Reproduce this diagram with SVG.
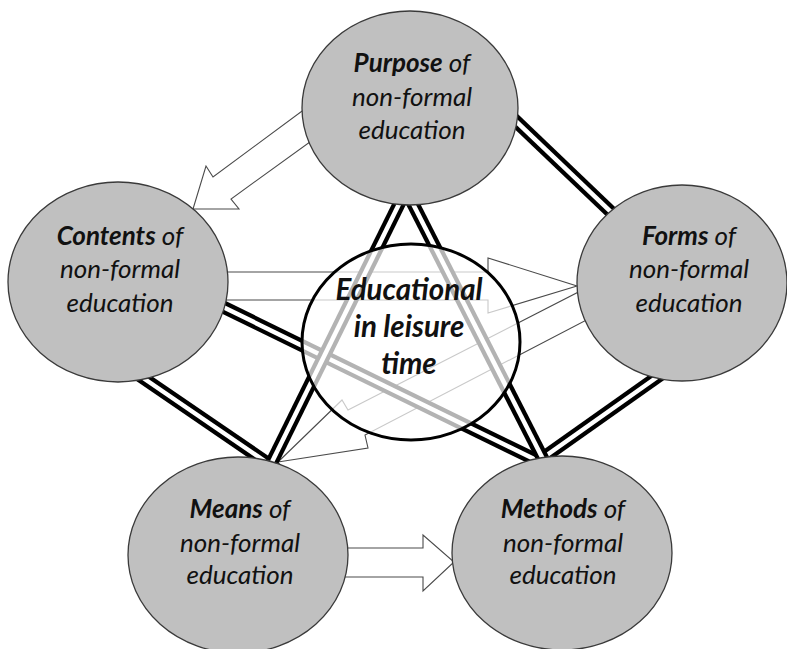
<svg xmlns="http://www.w3.org/2000/svg" width="787" height="649" viewBox="0 0 787 649">
<style>
.bg{fill:#ffffff}
.node{fill:#c0c0c0;stroke:#3a3a3a;stroke-width:1.3}
.center{fill:#ffffff;fill-opacity:0.7;stroke:#000;stroke-width:3}
.arrow{fill:#ffffff;stroke:#4a4a4a;stroke-width:1.1;stroke-linejoin:miter}
.dl-out{fill:none;stroke:#000;stroke-width:13}
.dl-in{fill:none;stroke:#fff;stroke-width:4.5}
.t{font-family:Lato,"Open Sans","Liberation Sans",sans-serif;font-style:italic;font-size:26px;fill:#111;text-anchor:middle}
.b{font-weight:bold}
.tc{font-size:29.5px;font-weight:bold}
</style>
<defs>
<path id="l1" d="M505,110.8 L625,225.4"/>
<path id="l2" d="M670,368 L530,467"/>
<path id="l3" d="M130,369 L277,469.5"/>
<path id="l4" d="M205,298.2 L550,466.7"/>
<path id="l5" d="M403,196 L269,468"/>
<path id="l6" d="M410,198 L546,465"/>
</defs>
<rect class="bg" x="0" y="0" width="787" height="649"/>
<g id="connectors">
<polygon class="arrow" points="317,100 213,177 206,166 193,209 239,209 231,199 321,134"/>
<polygon class="arrow" points="200,272 488,272 488,258 577,286 488,313 488,300 200,300"/>
<polygon class="arrow" points="278,462 342,400 348,410 600,281 600,313 365,435 368,448"/>
<polygon class="arrow" points="330,548 423,548 423,535 454,562 423,591 423,577 330,577"/>
<use href="#l1" class="dl-out"/><use href="#l1" class="dl-in"/>
<use href="#l2" class="dl-out"/><use href="#l2" class="dl-in"/>
<use href="#l3" class="dl-out"/><use href="#l3" class="dl-in"/>
<use href="#l4" class="dl-out"/><use href="#l4" class="dl-in"/>
<use href="#l5" class="dl-out"/><use href="#l5" class="dl-in"/>
<use href="#l6" class="dl-out"/><use href="#l6" class="dl-in"/>
</g>
<g id="purpose">
<ellipse class="node" cx="410" cy="108" rx="108" ry="97"/>
<text class="t" x="412" y="72"><tspan class="b">Purpose</tspan> of</text>
<text class="t" x="412" y="106">non-formal</text>
<text class="t" x="412" y="139">education</text>
</g>
<g id="contents">
<ellipse class="node" cx="118" cy="282" rx="110" ry="100"/>
<text class="t" x="120" y="245"><tspan class="b">Contents</tspan> of</text>
<text class="t" x="120" y="278">non-formal</text>
<text class="t" x="120" y="312">education</text>
</g>
<g id="forms">
<ellipse class="node" cx="682" cy="283" rx="105" ry="98"/>
<text class="t" x="689" y="245"><tspan class="b">Forms</tspan> of</text>
<text class="t" x="689" y="278">non-formal</text>
<text class="t" x="689" y="312">education</text>
</g>
<g id="means">
<ellipse class="node" cx="238" cy="555" rx="110" ry="98"/>
<text class="t" x="240" y="518"><tspan class="b">Means</tspan> of</text>
<text class="t" x="240" y="552">non-formal</text>
<text class="t" x="240" y="584">education</text>
</g>
<g id="methods">
<ellipse class="node" cx="562" cy="553" rx="110" ry="97"/>
<text class="t" x="563" y="518"><tspan class="b">Methods</tspan> of</text>
<text class="t" x="563" y="552">non-formal</text>
<text class="t" x="563" y="584">education</text>
</g>
<g id="central">
<ellipse class="center" cx="411" cy="342" rx="109" ry="98"/>
<text class="t tc" x="409" y="300">Educational</text>
<text class="t tc" x="409" y="337">in leisure</text>
<text class="t tc" x="409" y="374">time</text>
</g>
</svg>
